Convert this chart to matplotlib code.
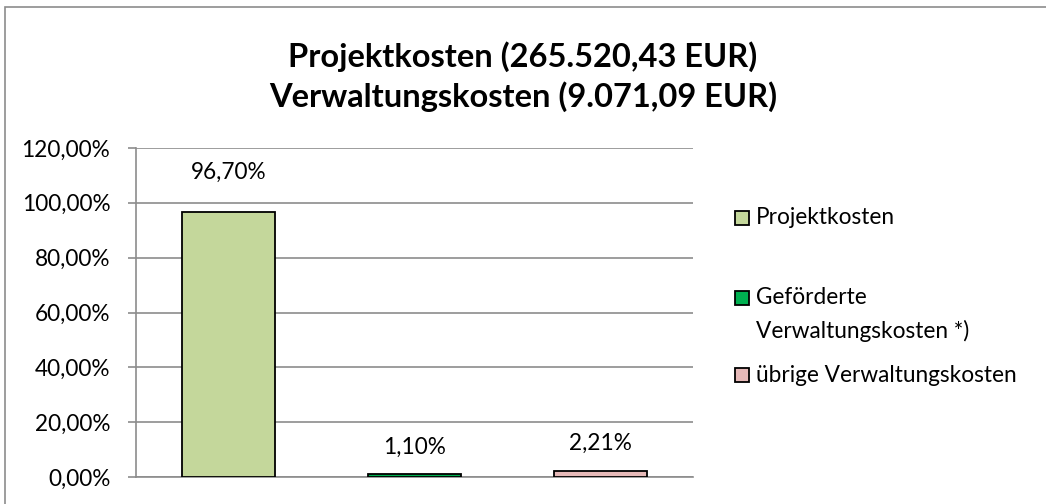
import matplotlib.pyplot as plt
from matplotlib.patches import Rectangle
from matplotlib.ticker import FuncFormatter

# Daten aus dem Diagramm
kategorien = ['Projektkosten', 'Geförderte\nVerwaltungskosten *)', 'übrige Verwaltungskosten']
anteile = [96.70, 1.10, 2.21]
farben = ['#C4D79B', '#00B050', '#E6B9B8']
etiketten = ['96,70%', '1,10%', '2,21%']
y_ticks = [0, 20, 40, 60, 80, 100, 120]

plt.rcParams['font.family'] = ['Lato', 'DejaVu Sans']

B, H = 1046, 504
fig = plt.figure(figsize=(B / 100, H / 100), dpi=100)

# Rahmen des Diagramms (rechts/unten abgeschnitten)
fig.patches.append(Rectangle((5 / B, -0.1), 1.2, 1 - 7 / H + 0.1,
                             transform=fig.transFigure, fill=False,
                             edgecolor='#8C8C8C', linewidth=1.2))

ax = fig.add_axes([136 / B, 1 - 477 / H, (693 - 136) / B, (477 - 148) / H])

x = list(range(len(anteile)))
ax.bar(x, anteile, width=0.5, color=farben, edgecolor='black', linewidth=1.3, zorder=3)

# Datenbeschriftungen (Abstand über dem Balken in Pixel)
abstand_px = [40, 27, 28]
for xi, wert, txt, d in zip(x, anteile, etiketten, abstand_px):
    ax.annotate(txt, (xi, wert), xytext=(0, d * 0.72), textcoords='offset points',
                ha='center', va='center', fontsize=16.3)

ax.set_xlim(-0.497, 2.497)
ax.set_ylim(0, 120)
ax.set_yticks(y_ticks)
ax.yaxis.set_major_formatter(FuncFormatter(lambda v, p: f'{v:.2f}%'.replace('.', ',')))
ax.tick_params(axis='y', labelsize=16.3, length=5.5, color='#8C8C8C', width=1.2, pad=13)
ax.set_xticks([])
ax.grid(True, axis='y', color='#8C8C8C', linewidth=1.2, zorder=0)

for seite in ['top', 'right']:
    ax.spines[seite].set_visible(False)
for seite in ['left', 'bottom']:
    ax.spines[seite].set_color('#8C8C8C')
    ax.spines[seite].set_linewidth(1.2)

fig.text(0.5, 1 - 57 / H, 'Projektkosten (265.520,43 EUR)', ha='center', va='center',
         fontsize=23.5, fontweight='bold')
fig.text(0.5, 1 - 97 / H, 'Verwaltungskosten (9.071,09 EUR)', ha='center', va='center',
         fontsize=23.5, fontweight='bold')

# Legende
legende_y = [218, 298, 375]
for farbe, name, ly in zip(farben, kategorien, legende_y):
    fig.patches.append(Rectangle((735 / B, 1 - (ly + 7) / H), 14 / B, 14 / H,
                                 transform=fig.transFigure, facecolor=farbe,
                                 edgecolor='black', linewidth=1.3))
    zeilen = name.split('\n')
    for i, zeile in enumerate(zeilen):
        fig.text(756 / B, 1 - (ly + 33 * i) / H, zeile, ha='left', va='center',
                 fontsize=16.3)

fig.savefig('out.png', dpi=100)
